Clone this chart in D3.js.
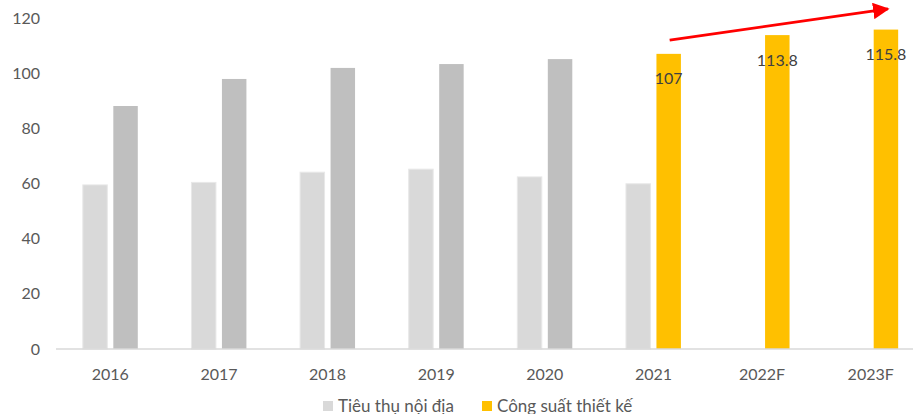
<!DOCTYPE html>
<html>
<head>
<meta charset="utf-8">
<script src="https://cdn.jsdelivr.net/npm/d3@7"></script>
<style>
  html, body { margin: 0; padding: 0; background: #fff; }
  svg { display: block; font-family: Lato, "Open Sans", sans-serif; }
</style>
</head>
<body>
<svg id="chart" width="913" height="414"></svg>
<script>
// Categories and series
const years = ["2016", "2017", "2018", "2019", "2020", "2021", "2022F", "2023F"];
const consumption = [59.5, 60.4, 64.1, 65.2, 62.4, 59.9, null, null];   // Tiêu thụ nội địa
const capacity = [88.1, 97.9, 101.9, 103.3, 105.1, 107, 113.8, 115.8];  // Công suất thiết kế
const labelledYears = ["2021", "2022F", "2023F"];
const yTicks = [0, 20, 40, 60, 80, 100, 120];
const legendNames = ["Tiêu thụ nội địa", "Công suất thiết kế"];

const W = 913, H = 414;
const svg = d3.select("#chart");

const x = d3.scaleBand().domain(years).range([56, 925]).paddingInner(0.494).paddingOuter(0.247);
const sub = d3.scaleBand().domain(["c", "p"]).range([0, x.bandwidth()]).paddingInner(0.197);
const y = d3.scaleLinear().domain([0, 120]).range([349, 18]);

const cLight = "#d9d9d9", cDark = "#bfbfbf", cYellow = "#ffc000";
const isForecastStyle = yr => labelledYears.includes(yr);

// Y axis labels (no line, no ticks)
const yAxis = svg.append("g").attr("transform", "translate(40,0)")
  .call(d3.axisLeft(y).tickValues(yTicks).tickSize(0).tickPadding(0));
yAxis.select(".domain").remove();
yAxis.selectAll("text").attr("fill", "#595959").attr("font-size", 16)
  .attr("font-family", "Lato, 'Open Sans', sans-serif");

// Domestic consumption bars
svg.append("g").selectAll("rect")
  .data(years.map((yr, i) => ({ yr, v: consumption[i] })).filter(d => d.v != null))
  .join("rect")
  .attr("x", d => x(d.yr) + sub("c"))
  .attr("width", sub.bandwidth())
  .attr("y", d => y(d.v))
  .attr("height", d => y(0) - y(d.v))
  .attr("fill", cLight)
  .attr("stroke", "#e8e8e8").attr("stroke-width", 1);

// Design capacity bars
svg.append("g").selectAll("rect")
  .data(years.map((yr, i) => ({ yr, v: capacity[i] })))
  .join("rect")
  .attr("x", d => x(d.yr) + sub("p"))
  .attr("width", sub.bandwidth())
  .attr("y", d => y(d.v))
  .attr("height", d => y(0) - y(d.v))
  .attr("fill", d => isForecastStyle(d.yr) ? cYellow : cDark);

// Baseline
svg.append("line")
  .attr("x1", 56).attr("x2", W)
  .attr("y1", y(0)).attr("y2", y(0))
  .attr("stroke", "#d9d9d9").attr("stroke-width", 1.5);

// X axis labels
const xAxis = svg.append("g").attr("transform", `translate(0,${y(0)})`)
  .call(d3.axisBottom(x).tickSize(0).tickPadding(20));
xAxis.select(".domain").remove();
xAxis.selectAll("text").attr("fill", "#595959").attr("font-size", 16)
  .attr("font-family", "Lato, 'Open Sans', sans-serif");

// Value labels on the highlighted capacity bars
svg.append("g").selectAll("text")
  .data(years.map((yr, i) => ({ yr, v: capacity[i] })).filter(d => isForecastStyle(d.yr)))
  .join("text")
  .attr("x", d => x(d.yr) + sub("p") + sub.bandwidth() / 2)
  .attr("y", d => y(d.v) + 25)
  .attr("dy", "0.35em")
  .attr("text-anchor", "middle")
  .attr("fill", "#404040")
  .attr("font-size", 16)
  .text(d => d.v);

// Growth arrow over the capacity bars
const defs = svg.append("defs");
defs.append("marker")
  .attr("id", "arrowHead")
  .attr("viewBox", "0 0 10 10")
  .attr("refX", 9).attr("refY", 5)
  .attr("markerWidth", 6).attr("markerHeight", 6)
  .attr("markerUnits", "strokeWidth")
  .attr("orient", "auto")
  .append("path").attr("d", "M0,0 L10,5 L0,10 Z").attr("fill", "#ff0000");

const arrowStart = { yr: "2021", v: 112 };
const arrowEnd = { yr: "2023F", v: 123.3 };
svg.append("line")
  .attr("x1", x(arrowStart.yr) + sub("p") + sub.bandwidth() / 2 + 1)
  .attr("y1", y(arrowStart.v))
  .attr("x2", x(arrowEnd.yr) + sub("p") + sub.bandwidth() / 2 + 2)
  .attr("y2", y(arrowEnd.v))
  .attr("stroke", "#ff0000").attr("stroke-width", 2.75)
  .attr("marker-end", "url(#arrowHead)");

// Legend
const legend = svg.append("g");
const legendItems = [
  { name: legendNames[0], color: cLight, x: 323 },
  { name: legendNames[1], color: cYellow, x: 482 }
];
legendItems.forEach(it => {
  legend.append("rect").attr("x", it.x).attr("y", 401).attr("width", 10).attr("height", 10).attr("fill", it.color);
  legend.append("text").attr("x", it.x + 15).attr("y", 411.5)
    .attr("fill", "#595959").attr("font-size", 17).text(it.name);
});
</script>
</body>
</html>
